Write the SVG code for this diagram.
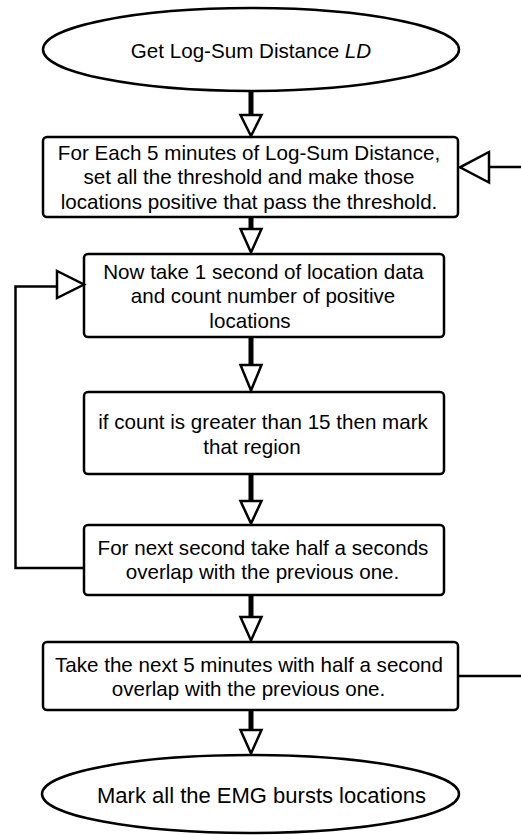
<svg xmlns="http://www.w3.org/2000/svg" width="521" height="835" viewBox="0 0 521 835">
  <style>
    .shape { fill: #ffffff; stroke: #000000; stroke-width: 2.5; }
    .label { font-family: "Liberation Sans", Arial, Helvetica, sans-serif; font-size: 20.6px; fill: #000000; text-anchor: middle; }
    .big { font-size: 22px; }
    .shaft { stroke: #000000; stroke-width: 5; fill: none; }
    .wire { stroke: #000000; stroke-width: 2.5; fill: none; }
    .head { fill: #ffffff; stroke: #000000; stroke-width: 2.5; stroke-linejoin: miter; }
  </style>

  <rect width="521" height="835" fill="#ffffff"/>

  <!-- start terminal -->
  <g id="start">
    <ellipse class="shape" cx="251" cy="49.5" rx="208" ry="41.5"/>
    <text class="label" x="251" y="57.5">Get Log-Sum Distance <tspan font-style="italic">LD</tspan></text>
  </g>

  <!-- threshold each 5-minute window -->
  <g id="threshold">
    <rect class="shape" x="43" y="137" width="415" height="80" rx="4"/>
    <text class="label" x="249" y="159.5">For Each 5 minutes of Log-Sum Distance,</text>
    <text class="label" x="249" y="184">set all the threshold and make those</text>
    <text class="label" x="249" y="208.5">locations positive that pass the threshold.</text>
  </g>

  <!-- count positives in one second -->
  <g id="count">
    <rect class="shape" x="84" y="254" width="360" height="83" rx="4"/>
    <text class="label" x="263.5" y="278.5">Now take 1 second of location data</text>
    <text class="label" x="263" y="303">and count number of positive</text>
    <text class="label" x="250" y="327.5">locations</text>
  </g>

  <!-- mark region -->
  <g id="mark">
    <rect class="shape" x="84" y="392" width="360" height="82" rx="4"/>
    <text class="label" x="263" y="428.5">if count is greater than 15 then mark</text>
    <text class="label" x="252" y="454">that region</text>
  </g>

  <!-- next second -->
  <g id="next-second">
    <rect class="shape" x="84" y="525" width="360" height="70" rx="4"/>
    <text class="label" x="263" y="554.5">For next second take half a seconds</text>
    <text class="label" x="262.5" y="579">overlap with the previous one.</text>
  </g>

  <!-- next 5 minutes -->
  <g id="next-window">
    <rect class="shape" x="43" y="642" width="415" height="68" rx="4"/>
    <text class="label" x="249" y="671.5">Take the next 5 minutes with half a second</text>
    <text class="label" x="248.5" y="695.5">overlap with the previous one.</text>
  </g>

  <!-- end terminal -->
  <g id="end">
    <ellipse class="shape" cx="250.5" cy="794" rx="208.5" ry="39"/>
    <text class="label big" x="261.5" y="803">Mark all the EMG bursts locations</text>
  </g>

  <!-- connectors -->
  <g id="connectors">
    <!-- start -> threshold -->
    <line class="shaft" x1="251" y1="91" x2="251" y2="115"/>
    <polygon class="head" points="240.5,115 261.5,115 251,136"/>
    <!-- threshold -> count -->
    <line class="shaft" x1="251" y1="217" x2="251" y2="229"/>
    <polygon class="head" points="240.5,229 261.5,229 251,252.5"/>
    <!-- count -> mark -->
    <line class="shaft" x1="251" y1="338" x2="251" y2="365"/>
    <polygon class="head" points="240.5,365 261.5,365 251,390.5"/>
    <!-- mark -> next second -->
    <line class="shaft" x1="251" y1="474" x2="251" y2="501"/>
    <polygon class="head" points="240.5,501 261.5,501 251,523.5"/>
    <!-- next second -> next window -->
    <line class="shaft" x1="251" y1="595" x2="251" y2="617"/>
    <polygon class="head" points="240.5,617 261.5,617 251,640.5"/>
    <!-- next window -> end -->
    <line class="shaft" x1="251" y1="710" x2="251" y2="730"/>
    <polygon class="head" points="240.5,730 261.5,730 251,753.5"/>

    <!-- inner loop: next second back to count -->
    <polyline class="wire" points="84,568 15.5,568 15.5,286.5 57,286.5"/>
    <polygon class="head" points="57,271 57,298 84,284.5"/>

    <!-- outer loop: next window back to threshold (runs past the right edge) -->
    <polyline class="wire" points="458,676 535,676 535,167 489,167"/>
    <polygon class="head" points="489,152 489,182.5 460,167.3"/>
  </g>
</svg>
